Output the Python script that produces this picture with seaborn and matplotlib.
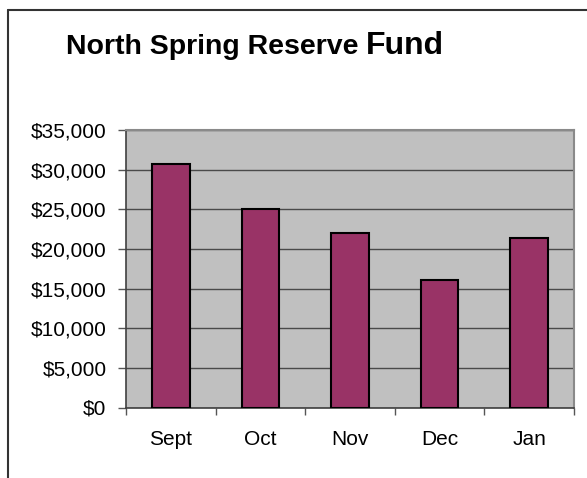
import numpy as np
import pandas as pd
import seaborn as sns
import matplotlib.pyplot as plt
from matplotlib.ticker import FuncFormatter, FixedLocator

months = ['Sept', 'Oct', 'Nov', 'Dec', 'Jan']
balance = [30700, 25000, 22000, 16050, 21400]
y_ticks = [0, 5000, 10000, 15000, 20000, 25000, 30000, 35000]

df = pd.DataFrame({'Month': months, 'Balance': balance})

sns.set_style('white')
plt.rcParams['font.family'] = ['Liberation Sans', 'DejaVu Sans']
plt.rcParams['text.color'] = 'black'

fig = plt.figure(figsize=(5.87, 4.78), dpi=100)
ax = fig.add_axes([126 / 587, 1 - 407.5 / 478, 448 / 587, 277.5 / 478])
ax.set_facecolor('#c0c0c0')

sns.barplot(data=df, x='Month', y='Balance', color='#993366', width=0.42,
            edgecolor='black', linewidth=1.5, saturation=1, ax=ax, zorder=3)

ax.set_ylim(0, 35000)
ax.set_xlim(-0.5, len(months) - 0.5)
ax.set_yticks(y_ticks)
ax.yaxis.set_major_formatter(FuncFormatter(lambda v, p: '${:,.0f}'.format(v)))
ax.grid(axis='y', color='#4a4a4a', linewidth=1, zorder=1)
ax.set_axisbelow(True)

ax.xaxis.set_minor_locator(FixedLocator(np.arange(-0.5, len(months), 1.0)))
ax.tick_params(axis='x', which='major', bottom=True, length=0, pad=16,
               labelsize=15, labelcolor='black')
ax.tick_params(axis='x', which='minor', bottom=True, length=5, width=1,
               color='#555555', direction='out')
ax.tick_params(axis='y', left=True, length=6, width=1, color='#555555',
               direction='out', pad=8, labelsize=15, labelcolor='black')
ax.set_xlabel('')
ax.set_ylabel('')

for side in ['left', 'bottom']:
    ax.spines[side].set_color('#404040')
    ax.spines[side].set_linewidth(1.2)
for side in ['top', 'right']:
    ax.spines[side].set_visible(True)
    ax.spines[side].set_color('#8a8a8a')
    ax.spines[side].set_linewidth(1.5)

# outer chart frame
fig.add_artist(plt.Line2D([7.5 / 587, 7.5 / 587], [0, 1 - 9.5 / 478], color='#333333', linewidth=1.5))
fig.add_artist(plt.Line2D([7.5 / 587, 1], [1 - 9.5 / 478, 1 - 9.5 / 478], color='#333333', linewidth=1.5))

fig.text(66 / 587, 1 - 54 / 478, 'North Spring Reserve', fontsize=20.5, fontweight='bold', ha='left', va='baseline')
fig.text(366 / 587, 1 - 54 / 478, 'Fund', fontsize=23, fontweight='bold', ha='left', va='baseline')

plt.savefig('out.png', dpi=100)
